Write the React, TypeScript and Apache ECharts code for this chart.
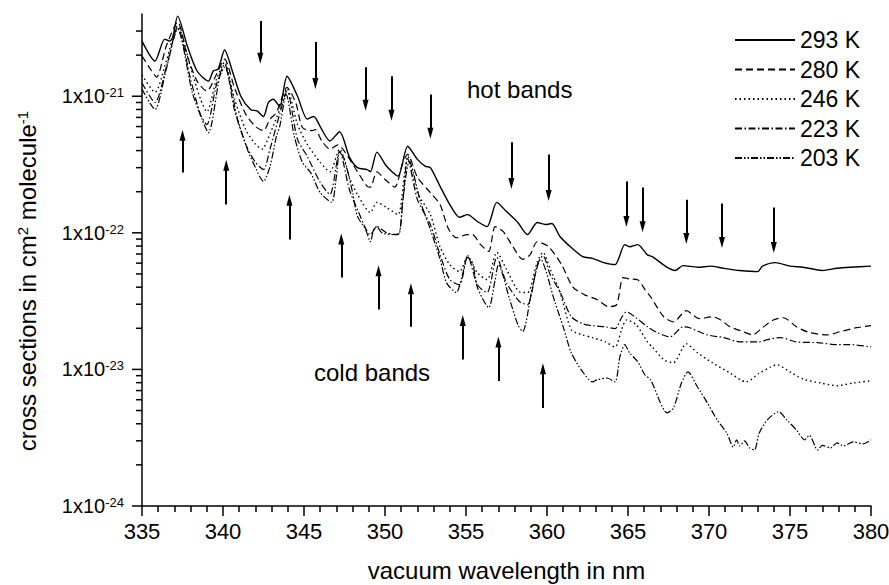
import React, { useEffect, useRef } from 'react';
import * as echarts from 'echarts';

const FONT = '"Liberation Sans", Arial, Helvetica, sans-serif';

const seriesNames = ['293 K', '280 K', '246 K', '223 K', '203 K'];

const s293: [number, number][] = [
  [335.0, 2.53e-21], [335.8, 1.81e-21], [336.4, 2.62e-21], [336.7, 2.53e-21], [336.9, 2.71e-21], [337.2, 3.86e-21],
  [337.8, 2.33e-21], [338.4, 1.53e-21], [339.1, 1.29e-21], [339.4, 1.53e-21], [339.7, 1.58e-21], [340.1, 2.18e-21],
  [340.6, 1.5e-21], [341.1, 1.0e-21], [341.7, 8.0e-22], [342.1, 7.8e-22], [342.5, 7.1e-22], [342.8, 9.0e-22],
  [343.1, 9.5e-22], [343.5, 8.4e-22], [343.95, 1.4e-21], [344.6, 1.0e-21], [345.2, 6.8e-22], [345.6, 7.1e-22],
  [346.0, 6.0e-22], [346.6, 4.7e-22], [347.2, 5.5e-22], [347.8, 3.6e-22], [348.3, 3.0e-22], [348.9, 2.9e-22],
  [349.1, 2.8e-22], [349.5, 3.9e-22], [350.1, 3.07e-22], [350.8, 2.6e-22], [351.4, 4.3e-22], [352.0, 3.45e-22],
  [352.5, 3.07e-22], [352.8, 3.0e-22], [353.4, 2.19e-22], [354.0, 1.61e-22], [354.6, 1.3e-22], [355.1, 1.36e-22],
  [355.7, 1.21e-22], [356.3, 1.11e-22], [356.9, 1.67e-22], [357.5, 1.43e-22], [358.2, 1.19e-22], [358.8, 9.7e-23],
  [359.4, 1.19e-22], [359.9, 1.15e-22], [360.3, 1.17e-22], [360.8, 9.4e-23], [361.5, 7.8e-23], [362.2, 6.7e-23],
  [362.8, 6.5e-23], [363.5, 6.05e-23], [364.2, 5.85e-23], [364.8, 8.2e-23], [365.1, 7.9e-23], [365.6, 8.2e-23],
  [366.2, 6.9e-23], [366.5, 6.7e-23], [367.4, 5.6e-23], [367.9, 5.3e-23], [368.4, 5.75e-23], [369.3, 5.6e-23],
  [370.1, 5.7e-23], [370.9, 5.5e-23], [371.9, 5.3e-23], [373.0, 5.2e-23], [373.3, 5.7e-23], [374.1, 6.05e-23],
  [375.0, 5.7e-23], [375.8, 5.6e-23], [377.0, 5.3e-23], [377.9, 5.5e-23], [378.7, 5.6e-23], [380.0, 5.7e-23],
];

const s280: [number, number][] = [
  [335.0, 1.97e-21], [335.6, 1.53e-21], [335.9, 1.38e-21], [336.5, 2.33e-21], [337.2, 3.49e-21], [337.8, 1.97e-21],
  [338.4, 1.29e-21], [339.0, 1.09e-21], [339.6, 1.45e-21], [340.1, 1.87e-21], [340.7, 1.16e-21], [341.4, 7.4e-22],
  [342.0, 6.0e-22], [342.5, 5.6e-22], [342.9, 6.8e-22], [343.3, 7.6e-22], [343.95, 1.16e-21], [344.5, 8.9e-22],
  [344.9, 5.9e-22], [345.5, 5.6e-22], [345.7, 5.7e-22], [346.1, 4.7e-22], [346.6, 4.1e-22], [347.1, 4.4e-22],
  [347.5, 3.95e-22], [348.3, 2.8e-22], [348.9, 2.19e-22], [349.1, 2.16e-22], [349.5, 2.8e-22], [350.0, 2.46e-22],
  [350.6, 2.16e-22], [351.1, 3.28e-22], [351.4, 3.75e-22], [352.0, 2.55e-22], [352.8, 1.97e-22], [353.4, 1.61e-22],
  [353.9, 1.08e-22], [354.4, 9.2e-23], [355.1, 9.7e-23], [355.4, 9.7e-23], [355.9, 8.2e-23], [356.4, 7.3e-23],
  [356.8, 1.11e-22], [357.3, 1.02e-22], [357.9, 7.9e-23], [358.5, 6.4e-23], [358.95, 6.9e-23], [359.4, 8.6e-23],
  [360.1, 7.9e-23], [360.9, 5.85e-23], [361.6, 4.0e-23], [362.3, 3.53e-23], [363.1, 3.24e-23], [363.8, 2.88e-23],
  [364.3, 2.98e-23], [364.7, 4.7e-23], [365.1, 4.6e-23], [365.6, 4.54e-23], [366.05, 3.84e-23], [366.4, 3.4e-23],
  [367.2, 2.43e-23], [367.8, 2.23e-23], [368.6, 2.69e-23], [369.4, 2.35e-23], [370.2, 2.43e-23], [370.7, 2.31e-23],
  [371.3, 2.05e-23], [372.1, 1.89e-23], [372.7, 1.79e-23], [373.3, 2.02e-23], [374.0, 2.31e-23], [374.6, 2.39e-23],
  [375.4, 2.05e-23], [376.2, 1.86e-23], [377.3, 1.79e-23], [378.1, 1.89e-23], [379.1, 2.02e-23], [380.0, 2.09e-23],
];

const s246: [number, number][] = [
  [335.0, 1.43e-21], [335.8, 1.07e-21], [336.5, 1.81e-21], [337.2, 3.26e-21], [338.0, 1.63e-21], [338.6, 9.6e-22],
  [339.0, 7.7e-22], [339.6, 1.33e-21], [340.1, 1.78e-21], [340.7, 9.6e-22], [341.4, 5.7e-22], [342.0, 4.45e-22],
  [342.4, 4.1e-22], [342.9, 5.3e-22], [343.5, 8.0e-22], [343.95, 1.14e-21], [344.6, 6.2e-22], [345.2, 4.45e-22],
  [346.0, 3.28e-22], [346.6, 2.8e-22], [347.2, 4.1e-22], [347.8, 2.55e-22], [348.3, 1.91e-22], [349.1, 1.41e-22],
  [349.5, 1.67e-22], [350.1, 1.53e-22], [350.8, 1.36e-22], [351.2, 2.68e-22], [351.4, 3.63e-22], [352.0, 1.97e-22],
  [352.8, 1.36e-22], [353.4, 7.9e-23], [354.0, 5.85e-23], [354.6, 5.2e-23], [355.1, 6.7e-23], [355.7, 5.1e-23],
  [356.3, 4.54e-23], [356.9, 7.2e-23], [357.5, 5.4e-23], [358.3, 3.7e-23], [358.8, 3.65e-23], [359.4, 6.15e-23],
  [359.75, 7.2e-23], [360.2, 5.4e-23], [360.8, 3.7e-23], [361.5, 1.95e-23], [362.2, 1.79e-23], [362.8, 1.71e-23],
  [363.6, 1.59e-23], [364.2, 1.46e-23], [364.6, 1.95e-23], [364.9, 2.3e-23], [365.5, 2.13e-23], [366.2, 1.59e-23],
  [366.5, 1.46e-23], [367.2, 1.18e-23], [367.8, 1.12e-23], [368.6, 1.54e-23], [369.3, 1.32e-23], [370.2, 1.12e-23],
  [371.3, 9.4e-24], [372.3, 8.1e-24], [373.1, 9.4e-24], [373.8, 1.04e-23], [374.2, 1.08e-23], [375.0, 9.6e-24],
  [375.8, 8.5e-24], [376.9, 7.95e-24], [377.9, 7.6e-24], [378.9, 7.95e-24], [380.0, 8.25e-24],
];

const s223: [number, number][] = [
  [335.0, 1.25e-21], [335.8, 9.0e-22], [336.5, 1.63e-21], [337.2, 3.2e-21], [338.0, 1.33e-21], [338.6, 7.4e-22],
  [339.0, 6.2e-22], [339.6, 1.22e-21], [340.1, 1.72e-21], [340.7, 8.0e-22], [341.4, 4.45e-22], [342.0, 3.28e-22],
  [342.5, 2.91e-22], [342.9, 4.1e-22], [343.5, 7.4e-22], [343.95, 1.09e-21], [344.6, 4.83e-22], [345.2, 3.63e-22],
  [346.0, 2.34e-22], [346.6, 1.91e-22], [347.2, 3.95e-22], [347.8, 2.08e-22], [348.3, 1.48e-22], [349.1, 9.7e-23],
  [349.5, 1.11e-22], [350.1, 1.0e-22], [350.8, 9.7e-23], [351.1, 1.7e-22], [351.4, 3.5e-22], [352.0, 1.75e-22],
  [352.8, 1.15e-22], [353.4, 6.9e-23], [354.0, 4.54e-23], [354.6, 4.17e-23], [355.1, 6.8e-23], [355.7, 4.17e-23],
  [356.3, 3.65e-23], [356.9, 6.6e-23], [357.5, 4.3e-23], [358.3, 3.14e-23], [358.8, 2.98e-23], [359.4, 5.85e-23],
  [359.75, 6.8e-23], [360.2, 4.94e-23], [360.8, 3.7e-23], [361.5, 2.43e-23], [362.2, 2.16e-23], [362.8, 2.09e-23],
  [363.6, 2.05e-23], [364.2, 1.99e-23], [364.6, 2.39e-23], [364.9, 2.64e-23], [365.5, 2.39e-23], [366.2, 2.05e-23],
  [366.8, 1.86e-23], [367.6, 1.73e-23], [368.4, 2.05e-23], [368.8, 2.02e-23], [369.9, 1.79e-23], [370.9, 1.71e-23],
  [371.9, 1.59e-23], [373.1, 1.59e-23], [373.6, 1.65e-23], [374.4, 1.71e-23], [375.4, 1.59e-23], [376.7, 1.57e-23],
  [377.9, 1.52e-23], [378.7, 1.52e-23], [380.0, 1.46e-23],
];

const s203: [number, number][] = [
  [335.0, 1.13e-21], [335.8, 8.0e-22], [336.5, 1.58e-21], [337.2, 3.1e-21], [338.1, 1.07e-21], [338.7, 6.8e-22],
  [339.1, 5.4e-22], [339.8, 1.4e-21], [340.1, 1.63e-21], [340.9, 6.8e-22], [341.5, 4.1e-22], [341.85, 3.28e-22],
  [342.5, 2.38e-22], [342.9, 3.06e-22], [343.3, 5.1e-22], [343.5, 6.0e-22], [343.9, 1.03e-21], [344.4, 5.1e-22],
  [344.9, 3.28e-22], [345.4, 2.77e-22], [346.0, 1.97e-22], [346.7, 1.67e-22], [347.0, 2.59e-22], [347.2, 3.88e-22],
  [347.5, 3.45e-22], [348.0, 1.97e-22], [348.3, 1.32e-22], [348.8, 1.06e-22], [349.1, 8.6e-23], [349.3, 1.06e-22],
  [349.5, 1.11e-22], [349.8, 1.0e-22], [350.6, 9.7e-23], [350.9, 1.0e-22], [351.1, 1.75e-22], [351.5, 3.33e-22],
  [352.2, 1.67e-22], [352.8, 1.06e-22], [353.4, 6.4e-23], [353.8, 4.3e-23], [354.4, 3.65e-23], [354.75, 4.77e-23],
  [355.1, 6.6e-23], [355.4, 6.05e-23], [355.7, 4.0e-23], [356.4, 2.83e-23], [356.8, 4.54e-23], [357.0, 5.85e-23],
  [357.7, 3.24e-23], [358.2, 2.13e-23], [358.5, 1.89e-23], [359.1, 4.0e-23], [359.6, 6.4e-23], [360.5, 3.08e-23],
  [361.0, 2.05e-23], [361.5, 1.32e-23], [362.2, 9.6e-24], [362.8, 8.1e-24], [363.1, 8.4e-24], [363.7, 8.65e-24],
  [364.2, 8.1e-24], [364.5, 1.24e-23], [364.8, 1.52e-23], [365.1, 1.32e-23], [365.6, 1.14e-23], [366.05, 9.1e-24],
  [366.4, 8.4e-24], [367.0, 5.7e-24], [367.4, 4.8e-24], [367.8, 5.2e-24], [368.3, 7.95e-24], [368.7, 9.6e-24],
  [369.3, 7.4e-24], [369.9, 5.7e-24], [370.5, 4.27e-24], [371.1, 3.42e-24], [371.5, 2.7e-24], [371.7, 3.05e-24],
  [371.9, 2.75e-24], [372.2, 3.0e-24], [372.5, 2.66e-24], [372.8, 2.57e-24], [373.1, 3.42e-24], [373.6, 4.27e-24],
  [374.3, 4.9e-24], [374.8, 4.27e-24], [375.4, 3.6e-24], [375.9, 3.05e-24], [376.2, 3.3e-24], [376.7, 2.57e-24],
  [377.0, 2.78e-24], [377.5, 2.66e-24], [377.9, 2.9e-24], [378.3, 2.75e-24], [378.9, 2.95e-24], [379.5, 2.85e-24],
  [380.0, 3.05e-24],
];

// Hot band arrows (pointing down): wavelength, start value, end value
const hotArrowX = [342.3, 345.7, 348.8, 350.4, 352.8, 357.8, 360.1, 364.9, 365.9, 368.6, 370.8, 374.0];
const hotArrowFrom = [3.55e-21, 2.49e-21, 1.63e-21, 1.4e-21, 1.03e-21, 4.6e-22, 3.75e-22, 2.38e-22, 2.15e-22, 1.75e-22, 1.64e-22, 1.53e-22];
const hotArrowTo = [1.9e-21, 1.24e-21, 8.6e-22, 7.25e-22, 5.36e-22, 2.3e-22, 1.88e-22, 1.21e-22, 1.11e-22, 9.1e-23, 8.5e-23, 7.8e-23];

// Cold band arrows (pointing up)
const coldArrowX = [337.5, 340.2, 344.1, 347.3, 349.6, 351.6, 354.8, 357.0, 359.75];
const coldArrowFrom = [2.77e-22, 1.61e-22, 8.93e-23, 4.7e-23, 2.74e-23, 2.05e-23, 1.18e-23, 8.24e-24, 5.22e-24];
const coldArrowTo = [5.18e-22, 3.12e-22, 1.73e-22, 9.0e-23, 5.28e-23, 3.9e-23, 2.28e-23, 1.59e-23, 1.01e-23];

// Y-axis ticks
const yMajorTicks = [1e-24, 1e-23, 1e-22, 1e-21];
const yMajorExponents = [-24, -23, -22, -21];
const yMinorTicks = [
  2e-24, 3e-24, 4e-24, 5e-24, 6e-24, 7e-24, 8e-24, 9e-24,
  2e-23, 3e-23, 4e-23, 5e-23, 6e-23, 7e-23, 8e-23, 9e-23,
  2e-22, 3e-22, 4e-22, 5e-22, 6e-22, 7e-22, 8e-22, 9e-22,
  2e-21, 3e-21,
];

const X_MIN = 335;
const X_MAX = 380;
const Y_MIN = 1e-24;
const Y_MAX = 4e-21;
const GRID_LEFT = 142;
const GRID_TOP = 14;
const GRID_BOTTOM = 79;
const CHART_H = 585;

export default function App() {
  const ref = useRef<HTMLDivElement>(null);

  useEffect(() => {
    document.body.style.margin = '0';
    const chart = echarts.init(ref.current!, null, { renderer: 'svg' });

    const lineTypes: any[] = [
      'solid',
      [7, 4],
      [1.5, 3],
      [7, 2.5, 1.5, 2.5],
      [7, 2, 1.5, 2, 1.5, 2],
    ];
    const lineWidths = [1.4, 1.2, 1.4, 1.2, 1.2];
    const allData = [s293, s280, s246, s223, s203];

    const arrowData: any[] = [];
    hotArrowX.forEach((x, i) => {
      arrowData.push([{ coord: [x, hotArrowFrom[i]] }, { coord: [x, hotArrowTo[i]] }]);
    });
    coldArrowX.forEach((x, i) => {
      arrowData.push([{ coord: [x, coldArrowFrom[i]] }, { coord: [x, coldArrowTo[i]] }]);
    });

    const series: any[] = allData.map((d, i) => ({
      type: 'line',
      name: seriesNames[i],
      data: d,
      yAxisIndex: 0,
      symbol: 'none',
      showSymbol: false,
      smooth: 0.25,
      silent: true,
      lineStyle: { color: '#000', width: lineWidths[i], type: lineTypes[i] },
      itemStyle: { color: '#000' },
      z: 10 - i,
    }));

    series.push({
      type: 'line',
      name: 'arrows',
      data: [],
      yAxisIndex: 0,
      symbol: 'none',
      silent: true,
      markLine: {
        silent: true,
        symbol: ['none', 'triangle'],
        symbolSize: [6, 11],
        label: { show: false },
        lineStyle: { color: '#000', width: 2, type: 'solid' },
        itemStyle: { color: '#000' },
        emphasis: { disabled: true },
        data: arrowData,
      },
    });

    const expMin = Math.log10(Y_MIN);
    const expMax = Math.log10(Y_MAX);
    const tickLine = { color: '#000', width: 1.5 };

    // y-axis tick marks (log mapping of the grid's y extent), as thin filled bars
    const plotH = CHART_H - GRID_TOP - GRID_BOTTOM;
    const tickY = (v: number) => GRID_TOP + ((expMax - Math.log10(v)) / (expMax - expMin)) * plotH;
    const tickRects = (values: number[], len: number, prefix: string) =>
      values.map((v, i) => ({
        id: prefix + i,
        type: 'rect',
        silent: true,
        z: 100,
        shape: { x: GRID_LEFT - len, y: tickY(v) - 0.75, width: len, height: 1.5 },
        style: { fill: '#000' },
      }));

    const graphics: any[] = [
      {
        id: 'ytitle',
        type: 'text',
        x: 27,
        y: 281,
        rotation: Math.PI / 2,
        silent: true,
        style: {
          text: 'cross sections in cm{sup|2} molecule{sup|-1}',
          fontSize: 24,
          fontFamily: FONT,
          fill: '#000',
          align: 'center',
          verticalAlign: 'middle',
          rich: {
            sup: { fontSize: 15, lineHeight: 10, verticalAlign: 'top', fontFamily: FONT, fill: '#000' },
          },
        },
      },
      {
        id: 'hot',
        type: 'text',
        x: 467,
        y: 89,
        silent: true,
        style: { text: 'hot bands', fontSize: 24, fontFamily: FONT, fill: '#000', verticalAlign: 'middle' },
      },
      {
        id: 'cold',
        type: 'text',
        x: 314,
        y: 372,
        silent: true,
        style: { text: 'cold bands', fontSize: 24, fontFamily: FONT, fill: '#000', verticalAlign: 'middle' },
      },
      ...tickRects(yMajorTicks, 10, 'maj'),
      ...tickRects(yMinorTicks, 6, 'min'),
    ];

    const option: any = {
      animation: false,
      textStyle: { fontFamily: FONT },
      grid: {
        left: GRID_LEFT,
        right: 18,
        top: GRID_TOP,
        bottom: GRID_BOTTOM,
        outerBoundsMode: 'none',
        containLabel: false,
      },
      legend: {
        data: seriesNames,
        orient: 'vertical',
        left: 734,
        top: 28,
        padding: 0,
        itemWidth: 60,
        itemHeight: 4,
        itemGap: 5.5,
        selectedMode: false,
        itemStyle: { opacity: 0 },
        textStyle: { fontSize: 23, color: '#000', fontFamily: FONT, lineHeight: 24 },
      },
      xAxis: {
        type: 'value',
        min: X_MIN,
        max: X_MAX,
        interval: 5,
        axisLine: { show: true, onZero: false, lineStyle: tickLine },
        axisTick: { show: true, length: 10, lineStyle: tickLine },
        minorTick: { show: true, splitNumber: 5, length: 6, lineStyle: tickLine },
        axisLabel: { color: '#000', fontSize: 22, fontFamily: FONT, margin: 14 },
        splitLine: { show: false },
        minorSplitLine: { show: false },
        name: 'vacuum wavelength in nm',
        nameLocation: 'middle',
        nameGap: 52,
        nameTextStyle: { fontSize: 24, color: '#000', fontFamily: FONT },
      },
      yAxis: [
        {
          // data axis (logarithmic)
          type: 'log',
          logBase: 10,
          min: Y_MIN,
          max: Y_MAX,
          position: 'left',
          axisLine: { show: true, lineStyle: tickLine },
          axisTick: { show: false },
          axisLabel: { show: false },
          splitLine: { show: false },
        },
        {
          // decade labels, in log10 units (same mapping as the log axis)
          type: 'value',
          min: expMin,
          max: expMax,
          position: 'left',
          axisLine: { show: false },
          axisTick: { show: false },
          axisLabel: {
            customValues: yMajorExponents,
            formatter: (v: number) => '{base|1x10}{sup|' + Math.round(v) + '}',
            color: '#000',
            fontSize: 20,
            fontFamily: FONT,
            margin: 18,
            rich: {
              base: { fontSize: 20, color: '#000', fontFamily: FONT },
              sup: { fontSize: 13, lineHeight: 8, verticalAlign: 'top', color: '#000', fontFamily: FONT },
            },
          },
          splitLine: { show: false },
        },
      ],
      graphic: graphics,
      series,
    };

    chart.setOption(option);
    return () => chart.dispose();
  }, []);

  return <div ref={ref} style={{ width: 889, height: 585 }} />;
}
